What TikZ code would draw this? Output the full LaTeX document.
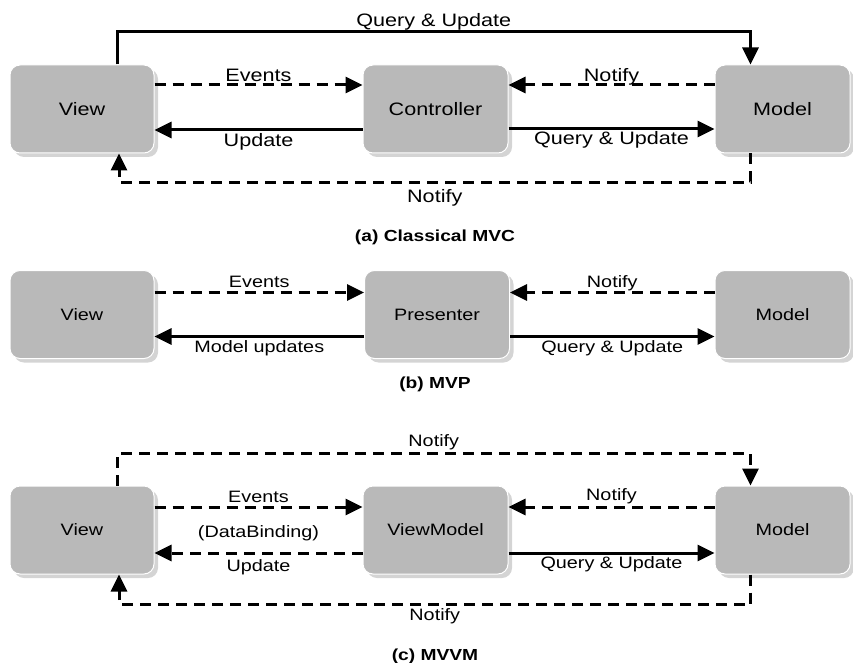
\documentclass[tikz,border=0pt]{standalone}
\usepackage{fontspec}
\setmainfont{Liberation Sans}[FakeStretch=1.2]
\usetikzlibrary{arrows.meta,shadows}
\definecolor{boxgray}{HTML}{B9B9B9}
\definecolor{shadowgray}{HTML}{D4D4D4}
\begin{document}
\begin{tikzpicture}[x=1pt,y=-1pt,
  box/.style={rectangle, rounded corners=10pt, fill=boxgray, draw=white, line width=1pt,
    minimum height=88pt, inner sep=0pt,
    drop shadow={shadow xshift=4pt, shadow yshift=-4pt, fill=shadowgray, opacity=1}},
  bigtxt/.style={font=\fontsize{18pt}{20pt}\selectfont},
  smtxt/.style={font=\fontsize{16.5pt}{18pt}\selectfont},
  conn/.style={line width=3pt, -{Triangle[length=17pt,width=16pt]}},
  dsh/.style={conn, dash pattern=on 11pt off 7pt},
  lab/.style={anchor=base, inner sep=0pt},
  captxt/.style={anchor=base, inner sep=0pt, font=\fontsize{16pt}{18pt}\selectfont\bfseries}]
\useasboundingbox (0,0) rectangle (853,663);

% ---------- (a) Classical MVC ----------
\node[box, bigtxt, minimum width=144pt] (vA) at (82,109) {View};
\node[box, bigtxt, minimum width=145pt] (cA) at (435.5,109) {Controller};
\node[box, bigtxt, minimum width=135pt] (mA) at (782.5,109) {Model};
\draw[conn] ([xshift=35pt]vA.north) -- ++(0,-33) -| node[pos=0.25, lab, bigtxt, yshift=5pt]{Query \& Update} ([xshift=-32pt]mA.north);
\draw[dsh] ([yshift=24pt]vA.east) -- node[lab, bigtxt, yshift=3pt]{Events} ([yshift=24pt]cA.west);
\draw[conn] ([yshift=-21pt]cA.west) -- node[lab, bigtxt, yshift=-17pt]{Update} ([yshift=-21pt]vA.east);
\draw[dsh] ([yshift=24pt]mA.west) -- node[lab, bigtxt, yshift=3pt]{Notify} ([yshift=24pt]cA.east);
\draw[conn] ([yshift=-20pt]cA.east) -- node[lab, bigtxt, yshift=-16pt]{Query \& Update} ([yshift=-20pt]mA.west);
\draw[dsh] ([xshift=-32pt]mA.south) -- ++(0,29) -| node[pos=0.25, lab, bigtxt, yshift=-20pt]{Notify} ([xshift=37pt]vA.south);
\node[captxt] (capA) at (435,241) {(a) Classical MVC};

% ---------- (b) MVP ----------
\node[box, smtxt, minimum width=144pt] (vB) at (82,314.5) {View};
\node[box, smtxt, minimum width=145pt] (pB) at (437,314.5) {Presenter};
\node[box, smtxt, minimum width=135pt] (mB) at (782.5,314.5) {Model};
\draw[dsh] ([yshift=22pt]vB.east) -- node[lab, smtxt, yshift=5pt]{Events} ([yshift=22pt]pB.west);
\draw[conn] ([yshift=-22pt]pB.west) -- node[lab, smtxt, yshift=-16pt]{Model updates} ([yshift=-22pt]vB.east);
\draw[dsh] ([yshift=22pt]mB.west) -- node[lab, smtxt, yshift=5pt]{Notify} ([yshift=22pt]pB.east);
\draw[conn] ([yshift=-22pt]pB.east) -- node[lab, smtxt, yshift=-16pt]{Query \& Update} ([yshift=-22pt]mB.west);
\node[captxt] (capB) at (435,388) {(b) MVP};

% ---------- (c) MVVM ----------
\node[box, smtxt, minimum width=144pt] (vC) at (82,530) {View};
\node[box, smtxt, minimum width=145pt] (cC) at (435.5,530) {ViewModel};
\node[box, smtxt, minimum width=135pt] (mC) at (782.5,530) {Model};
\draw[dsh] ([xshift=35pt]vC.north) -- ++(0,-32) -| node[pos=0.25, lab, smtxt, yshift=7pt]{Notify} ([xshift=-32pt]mC.north);
\draw[dsh] ([yshift=23pt]vC.east) -- node[lab, smtxt, yshift=5pt]{Events} ([yshift=23pt]cC.west);
\draw[dsh] ([yshift=-23pt]cC.west) -- node[lab, smtxt, yshift=16pt]{(DataBinding)} node[lab, smtxt, yshift=-18pt]{Update} ([yshift=-23pt]vC.east);
\draw[dsh] ([yshift=23pt]mC.west) -- node[lab, smtxt, yshift=7pt]{Notify} ([yshift=23pt]cC.east);
\draw[conn] ([yshift=-23pt]cC.east) -- node[lab, smtxt, yshift=-15pt]{Query \& Update} ([yshift=-23pt]mC.west);
\draw[dsh] ([xshift=-32pt]mC.south) -- ++(0,30) -| node[pos=0.25, lab, smtxt, yshift=-16pt]{Notify} ([xshift=37pt]vC.south);
\node[captxt] (capC) at (435,660) {(c) MVVM};
\end{tikzpicture}
\end{document}
